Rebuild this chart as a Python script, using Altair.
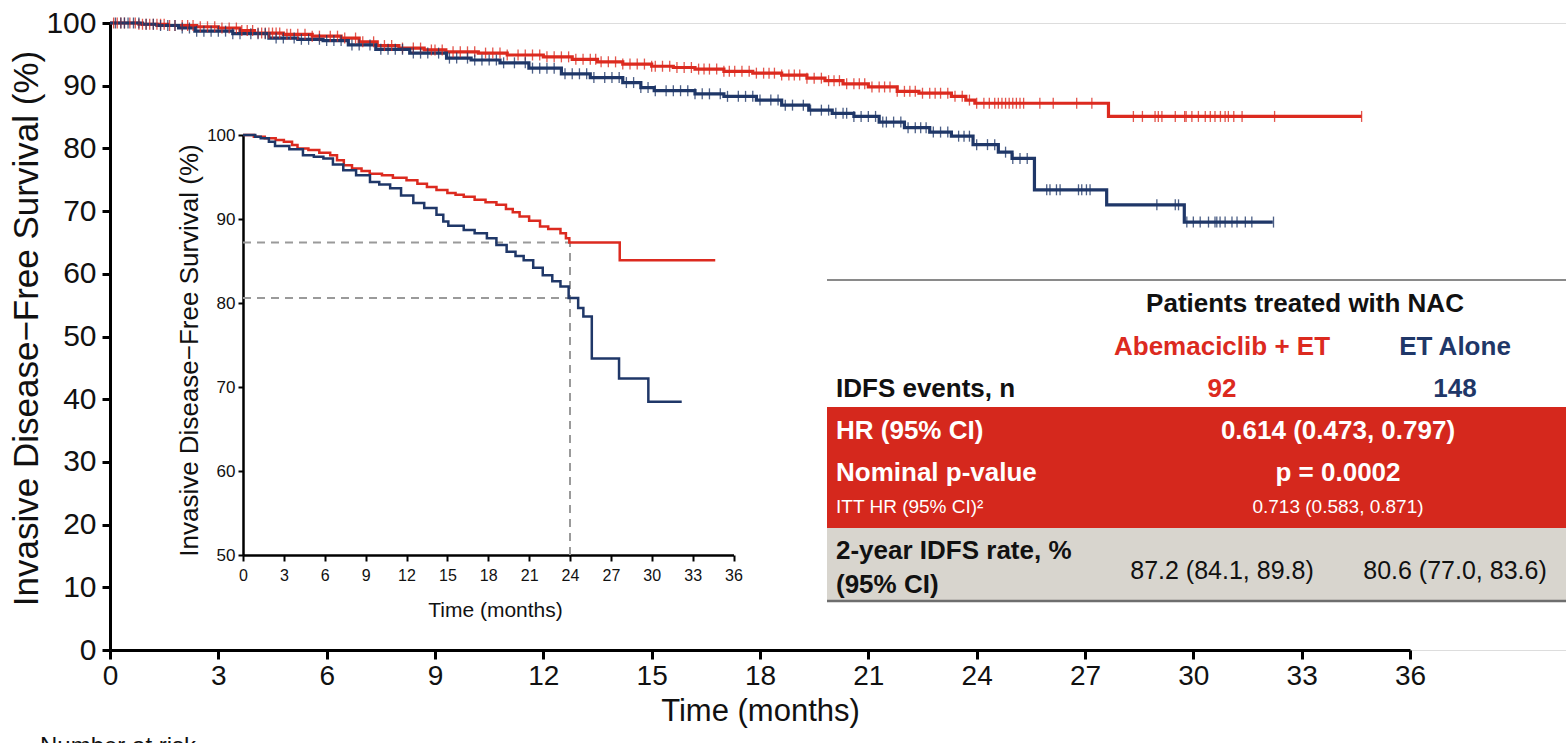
import altair as alt
import numpy as np
import pandas as pd

FONT = "Liberation Sans, Arial, sans-serif"
ARMS = ["Abemaciclib + ET", "ET Alone"]
COLORS = ["#dc2a1f", "#1f3768"]

# Kaplan-Meier step points (months, IDFS %)
red_t = [0, 0.8, 1.6, 2.4, 3.0, 3.6, 4.0, 4.8, 5.6, 6.4, 6.9, 7.4, 8.0, 8.7, 9.3,
         10.2, 11.0, 12.0, 12.8, 13.5, 14.2, 15.0, 15.6, 16.2, 17.0, 17.8, 18.6,
         19.3, 19.8, 20.3, 21.0, 21.8, 22.4, 23.3, 23.7, 23.95, 27.65]
red_s = [100, 99.8, 99.6, 99.4, 99.2, 98.8, 98.4, 98.2, 97.9, 97.6, 97.0, 96.4, 96.0,
         95.7, 95.4, 95.2, 94.9, 94.6, 94.2, 93.8, 93.45, 93.1, 92.9, 92.65, 92.3,
         92.0, 91.7, 91.2, 90.8, 90.3, 89.8, 89.1, 88.8, 88.3, 87.7, 87.2, 85.1]
red_end = 34.66

blue_t = [0, 0.9, 1.3, 1.9, 2.35, 3.4, 4.4, 5.2, 5.9, 6.6, 7.36, 8.3, 9.32, 10.0,
          10.8, 11.6, 12.5, 13.3, 14.2, 14.7, 15.07, 16.2, 17.0, 17.9, 18.6, 19.35,
          20.0, 20.6, 21.3, 22.0, 22.7, 23.3, 23.9, 24.6, 24.98, 25.6, 27.6, 29.75]
blue_s = [100, 99.8, 99.6, 99.2, 98.7, 98.3, 97.6, 97.4, 97.2, 96.5, 95.8, 95.2, 94.4,
          94.1, 93.65, 92.8, 91.9, 91.3, 90.5, 89.7, 89.2, 88.7, 88.3, 87.7, 86.9,
          86.1, 85.6, 85.1, 84.2, 83.3, 82.6, 81.95, 80.6, 79.4, 78.4, 73.4, 71.0, 68.25]
blue_end = 32.2

# censoring times (months)
red_censor = [0.1, 0.2, 0.3, 0.4, 0.55, 0.7, 0.8, 0.9, 1.0, 1.1, 1.2, 1.3, 1.4, 1.5,
              1.65, 1.8, 2.0, 2.15, 2.3, 2.5, 2.7, 2.9, 3.1, 3.3, 3.5, 3.65, 3.8, 3.95,
              4.1, 4.2, 4.3, 4.4, 4.5, 4.6, 4.7, 4.9, 5.0, 5.2, 5.4, 5.6, 5.8, 6.1,
              6.3, 6.5, 6.8, 7.0, 7.3, 7.6, 7.8, 8.1, 8.4, 8.6, 8.9, 9.0, 9.2, 9.5,
              9.7, 9.9, 10.1, 10.4, 10.6, 10.8, 11.0, 11.3, 11.5, 11.7, 11.9, 12.1,
              12.3, 12.5, 12.7, 12.9, 13.1, 13.3, 13.45, 13.6, 13.8, 14.0, 14.2, 14.4,
              14.6, 14.8, 15.0, 15.1, 15.3, 15.5, 15.7, 15.9, 16.1, 16.3, 16.45, 16.6,
              16.8, 17.0, 17.15, 17.3, 17.5, 17.7, 17.9, 18.1, 18.25, 18.4, 18.6,
              18.8, 18.95, 19.1, 19.3, 19.5, 19.7, 19.9, 20.05, 20.2, 20.4, 20.6,
              20.75, 20.9, 21.1, 21.3, 21.45, 21.6, 21.8, 22.0, 22.15, 22.3, 22.5,
              22.7, 22.85, 23.0, 23.2, 23.4, 23.6, 23.8, 24.0, 24.2, 24.35, 24.5,
              24.6, 24.7, 24.8, 24.9, 25.0, 25.1, 25.2, 25.3, 25.75, 26.12, 26.77,
              27.19, 28.34, 28.59, 28.94, 29.03, 29.13, 29.5, 29.76, 29.8, 29.96,
              30.14, 30.33, 30.47, 30.6, 30.75, 30.88, 30.97, 31.12, 31.35, 32.25,
              34.66]
blue_censor = [0.15, 0.3, 0.4, 0.5, 0.65, 0.8, 1.0, 1.2, 1.4, 1.6, 1.8, 2.0, 2.2, 2.4,
               2.6, 2.8, 3.0, 3.2, 3.4, 3.6, 3.9, 4.1, 4.3, 4.6, 4.8, 5.1, 5.3, 5.5,
               5.8, 6.0, 6.2, 6.4, 6.7, 6.9, 7.2, 7.5, 7.7, 7.9, 8.1, 8.4, 8.6, 8.8,
               9.1, 9.4, 9.6, 9.9, 10.1, 10.3, 10.5, 10.7, 10.9, 11.2, 11.5, 11.7,
               11.9, 12.1, 12.3, 12.6, 12.8, 13.0, 13.2, 13.4, 13.7, 13.9, 14.1, 14.3,
               14.5, 14.7, 14.9, 15.1, 15.4, 15.6, 15.8, 16.0, 16.2, 16.4, 16.6, 16.9,
               17.1, 17.4, 17.6, 17.8, 18.0, 18.3, 18.5, 18.7, 18.9, 19.2, 19.4, 19.7,
               19.9, 20.1, 20.3, 20.4, 20.6, 20.8, 21.0, 21.2, 21.4, 21.5, 21.7, 21.9,
               22.1, 22.3, 22.45, 22.6, 22.8, 23.0, 23.2, 23.5, 23.65, 23.8, 24.0,
               24.3, 24.5, 24.8, 25.0, 25.2, 25.4, 25.94, 26.03, 26.21, 26.31, 26.82,
               26.91, 27.04, 27.14, 28.99, 29.5, 29.59, 29.82, 30.0, 30.19, 30.42,
               30.6, 30.65, 30.74, 30.88, 31.07, 31.21, 31.44, 31.62, 32.22]

# summary table values
EVENTS = [92, 148]
HR, HR_CI = 0.614, (0.473, 0.797)
P_VALUE = "0.0002"
ITT_HR, ITT_CI = 0.713, (0.583, 0.871)
RATE_24 = [87.2, 80.6]
RATE_CI = [(84.1, 89.8), (77.0, 83.6)]
LANDMARK = 24

# plot-area geometry (pixels)
PW, PH = 1456, 627
LEFT, TOP = 110, 23


def step_frame(arm, ts, ss, end):
    return pd.DataFrame({"arm": arm, "t": list(ts) + [end], "s": list(ss) + [ss[-1]]})


def censor_frame(arm, ts, ss, cens):
    idx = np.searchsorted(np.array(ts), np.array(cens), side="right") - 1
    return pd.DataFrame({"arm": arm, "t": cens, "s": np.array(ss)[idx]})


steps = pd.concat([step_frame(ARMS[0], red_t, red_s, red_end),
                   step_frame(ARMS[1], blue_t, blue_s, blue_end)])
cens = pd.concat([censor_frame(ARMS[0], red_t, red_s, red_censor),
                  censor_frame(ARMS[1], blue_t, blue_s, blue_censor)])

color = alt.Color("arm:N", scale=alt.Scale(domain=ARMS, range=COLORS), legend=None)

# ---- main panel ----
mx_scale = alt.Scale(domain=[0, 36], range=[0, 1300], nice=False, zero=False)
my_scale = alt.Scale(domain=[0, 100], nice=False)
mx_axis = alt.Axis(values=list(range(0, 37, 3)), title="Time (months)", grid=False,
                   labelFont=FONT, labelFontSize=28, labelColor="#111", labelPadding=3,
                   labelFlush=False, labelOverlap=False,
                   tickSize=9, tickWidth=3, tickColor="black",
                   domainColor="black", domainWidth=3,
                   titleFont=FONT, titleFontSize=31, titleFontWeight="normal",
                   titleColor="#111", titleX=650, titleY=61, titleAlign="center",
                   titleBaseline="middle")
my_axis = alt.Axis(values=list(range(0, 101, 10)),
                   title="Invasive Disease\u2212Free Survival (%)", grid=False,
                   labelFont=FONT, labelFontSize=30, labelColor="#111", labelPadding=6,
                   tickSize=8, tickWidth=3, tickColor="black",
                   domainColor="black", domainWidth=3,
                   titleFont=FONT, titleFontSize=35, titleFontWeight="normal",
                   titleColor="#111", titleX=-84, titleY=305, titleAngle=270,
                   titleAlign="center", titleBaseline="middle")
MX = alt.X("t:Q", scale=mx_scale, axis=mx_axis)
MY = alt.Y("s:Q", scale=my_scale, axis=my_axis)

main_lines = alt.Chart(steps).mark_line(interpolate="step-after", strokeWidth=3.2).encode(
    x=MX, y=MY, color=color, detail="arm:N")
main_ticks = alt.Chart(cens).mark_tick(orient="vertical", size=11, thickness=1.3,
                                       opacity=0.8).encode(x=MX, y=MY, color=color)
main = alt.layer(main_lines, main_ticks)

# ---- inset panel ----
ix_scale = alt.Scale(domain=[0, 36], range=[133, 623.5], nice=False, zero=False)
iy_scale = alt.Scale(domain=[50, 100], range=[532, 112], nice=False, zero=False)
ix_axis = alt.Axis(orient="bottom", offset=-95, values=list(range(0, 37, 3)),
                   title="Time (months)", grid=False, labelFont=FONT, labelFontSize=16,
                   labelColor="#111", labelPadding=6, labelFlush=False, labelOverlap=False,
                   tickSize=6, tickWidth=2, tickColor="black",
                   domainColor="black", domainWidth=2.5,
                   titleFont=FONT, titleFontSize=21, titleFontWeight="normal",
                   titleColor="#111", titleX=385, titleY=55, titleAlign="center",
                   titleBaseline="middle")
iy_axis = alt.Axis(orient="left", offset=-133, values=list(range(50, 101, 10)),
                   title="Invasive Disease\u2212Free Survival (%)", grid=False,
                   labelFont=FONT, labelFontSize=17, labelColor="#111", labelPadding=3,
                   tickSize=5, tickWidth=2, tickColor="black",
                   domainColor="black", domainWidth=2.5,
                   titleFont=FONT, titleFontSize=26, titleFontWeight="normal",
                   titleColor="#111", titleX=-54, titleY=327, titleAngle=270,
                   titleAlign="center", titleBaseline="middle")
IX = alt.X("t:Q", scale=ix_scale, axis=ix_axis)
IY = alt.Y("s:Q", scale=iy_scale, axis=iy_axis)

landmark = pd.DataFrame({"t0": [0, 0], "t": [LANDMARK, LANDMARK], "s": RATE_24})
vline = pd.DataFrame({"t": [LANDMARK], "s": [50], "s2": [max(RATE_24)]})
dash = dict(color="#9a9a9a", strokeWidth=2, strokeDash=[8, 6])
inset_h = alt.Chart(landmark).mark_rule(**dash).encode(
    x=alt.X("t0:Q", scale=ix_scale, axis=ix_axis), x2="t:Q", y=IY)
inset_v = alt.Chart(vline).mark_rule(**dash).encode(x=IX, y=IY, y2="s2:Q")
inset_lines = alt.Chart(steps).mark_line(interpolate="step-after", strokeWidth=2.5).encode(
    x=IX, y=IY, color=color, detail="arm:N")
inset = alt.layer(inset_h, inset_v, inset_lines)


# ---- summary table ----
def box(x0, x1, y0, y1, fill):
    return alt.Chart(pd.DataFrame({"k": [0]})).mark_rect(color=fill).encode(
        x=alt.value(x0 - LEFT), x2=alt.value(x1 - LEFT),
        y=alt.value(y0 - TOP), y2=alt.value(y1 - TOP))


def hline(x0, x1, y, col, w):
    return alt.Chart(pd.DataFrame({"k": [0]})).mark_rule(color=col, strokeWidth=w).encode(
        x=alt.value(x0 - LEFT), x2=alt.value(x1 - LEFT), y=alt.value(y - TOP))


def label(text, x, y, size, col="#111", weight="normal", align="left", baseline="middle"):
    return alt.Chart(pd.DataFrame({"txt": [text]})).mark_text(
        align=align, baseline=baseline, font=FONT, fontSize=size, fontWeight=weight,
        color=col).encode(x=alt.value(x - LEFT), y=alt.value(y - TOP), text="txt:N")


RED_BAND = "#d5281d"
GREY_BAND = "#d8d5ce"
TX, C1, C2, CM = 836, 1222, 1455, 1338

table = [
    hline(827, 1566, 280, "#8a8a8a", 2),
    box(827, 1566, 407, 528, RED_BAND),
    box(827, 1566, 528, 601, GREY_BAND),
    hline(827, 1566, 601, "#6e6e6e", 2.5),
    label("Patients treated with NAC", 1305, 304, 26, weight="bold", align="center"),
    label(ARMS[0], C1, 347, 26, COLORS[0], "bold", "center"),
    label(ARMS[1], C2, 347, 26, COLORS[1], "bold", "center"),
    label("IDFS events, n", TX, 389, 26, weight="bold"),
    label(str(EVENTS[0]), C1, 389, 26, COLORS[0], "bold", "center"),
    label(str(EVENTS[1]), C2, 389, 26, COLORS[1], "bold", "center"),
    label("HR (95% CI)", TX, 431, 26, "white", "bold"),
    label(f"{HR:.3f} ({HR_CI[0]:.3f}, {HR_CI[1]:.3f})", CM, 431, 26, "white", "bold", "center"),
    label("Nominal p-value", TX, 473, 26, "white", "bold"),
    label(f"p = {P_VALUE}", CM, 473, 26, "white", "bold", "center"),
    label("ITT HR (95% CI)\u00b2", TX, 507, 19, "white"),
    label(f"{ITT_HR:.3f} ({ITT_CI[0]:.3f}, {ITT_CI[1]:.3f})", CM, 507, 19, "white",
          "normal", "center"),
    label("2-year IDFS rate, %", TX, 551, 26, weight="bold"),
    label("(95% CI)", TX, 585, 26, weight="bold"),
    label(f"{RATE_24[0]:.1f} ({RATE_CI[0][0]:.1f}, {RATE_CI[0][1]:.1f})", C1, 571, 25,
          align="center"),
    label(f"{RATE_24[1]:.1f} ({RATE_CI[1][0]:.1f}, {RATE_CI[1][1]:.1f})", C2, 571, 25,
          align="center"),
    label("Number at risk", 40, 735, 24, baseline="top"),
]

chart = alt.layer(main, inset, *table).resolve_scale(
    x="independent", y="independent"
).properties(
    width=PW, height=PH,
    autosize=alt.AutoSizeParams(type="none"),
    padding={"left": LEFT, "top": TOP, "right": 0, "bottom": 743 - TOP - PH},
).configure_view(strokeWidth=0).configure(background="white")

chart.save("out.html", embed_options={"renderer": "svg", "actions": False})
